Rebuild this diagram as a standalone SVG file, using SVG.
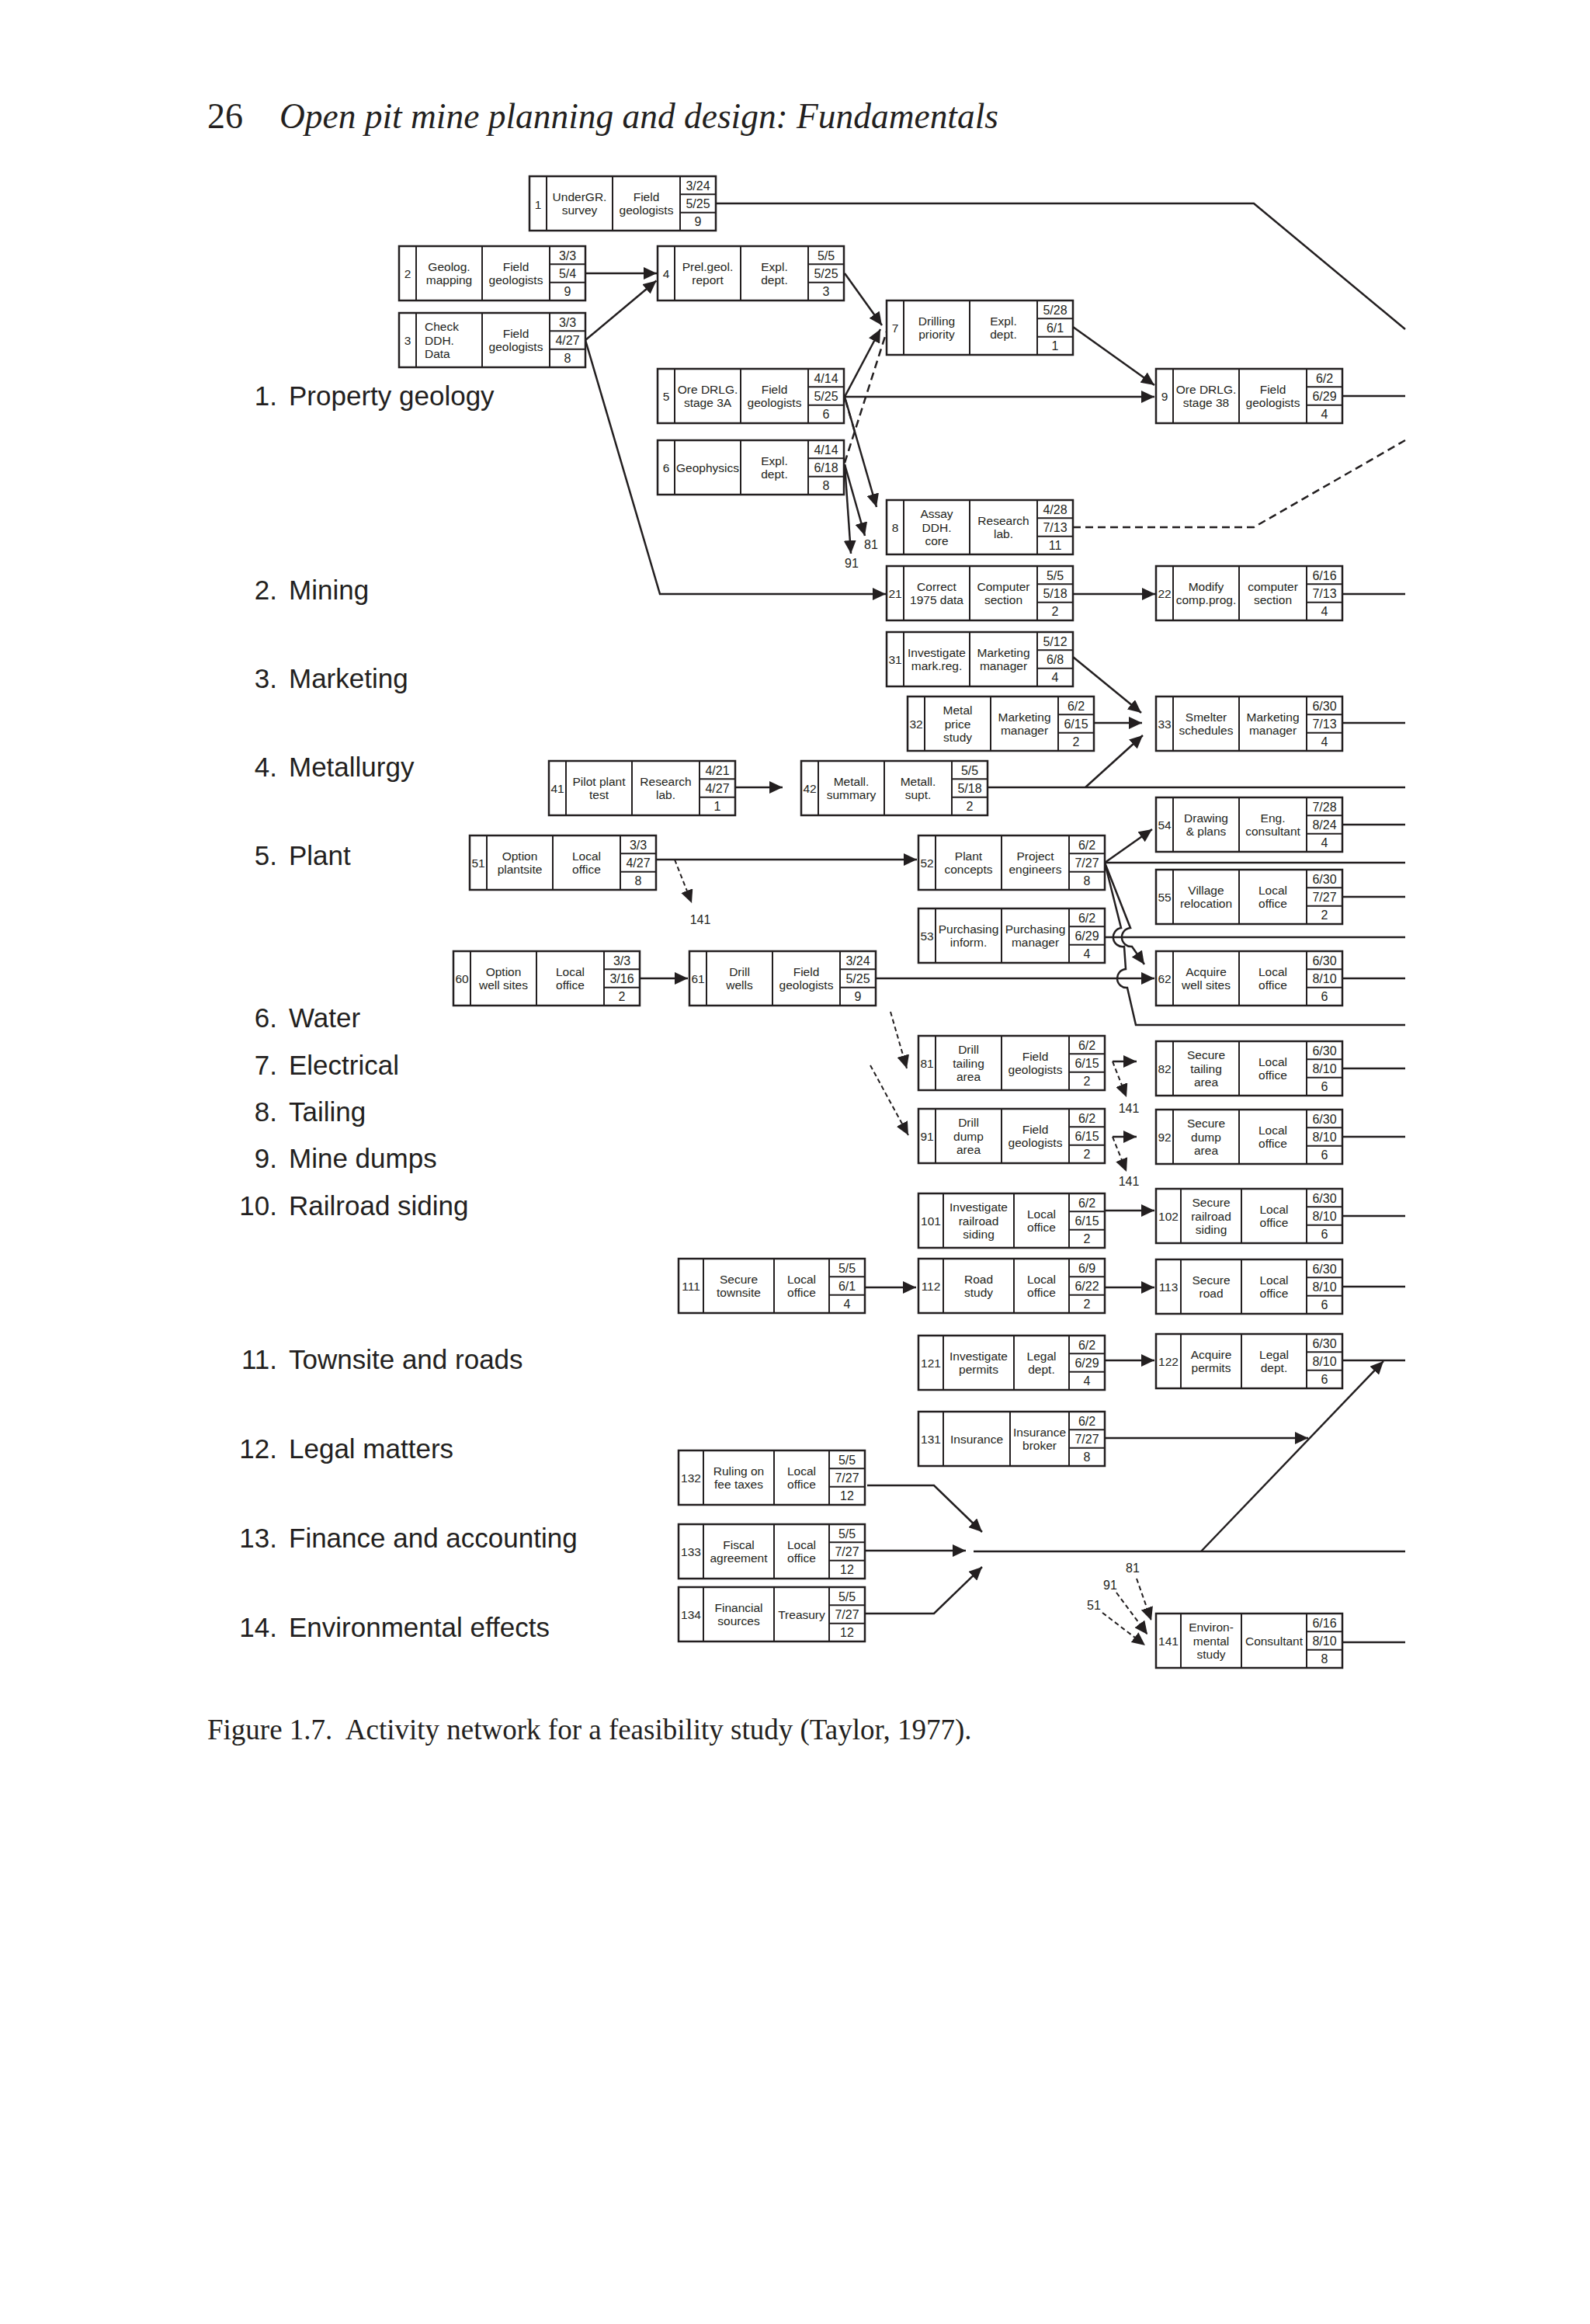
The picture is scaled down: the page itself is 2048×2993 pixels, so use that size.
<svg xmlns="http://www.w3.org/2000/svg" xmlns:xlink="http://www.w3.org/1999/xlink" width="2048" height="2993" viewBox="0 0 2048 2993">
<style>
.b{fill:#fff;stroke:#231f20;stroke-width:2.5}
.d{fill:none;stroke:#231f20;stroke-width:2}
.t{font-family:"Liberation Sans",Arial,sans-serif;font-size:15.5px;fill:#231f20;text-anchor:middle}
.l{font-family:"Liberation Sans",Arial,sans-serif;font-size:15.5px;fill:#231f20;text-anchor:start}
.s{font-family:"Liberation Sans",Arial,sans-serif;font-size:16px;fill:#231f20;text-anchor:middle}
.c{fill:none;stroke:#231f20;stroke-width:2.5}
.a{marker-end:url(#ah)}
.dl{stroke-dasharray:10 6}
.ds{stroke-dasharray:6 4;stroke-width:2}
.cat{font-family:"Liberation Sans",Arial,sans-serif;font-size:35px;fill:#231f20}
.num{text-anchor:end}
.ser{font-family:"Liberation Serif","Times New Roman",serif;fill:#231f20}
</style>
<defs>
<marker id="ah" viewBox="0 0 17 16" refX="17" refY="8" markerWidth="17" markerHeight="16" markerUnits="userSpaceOnUse" orient="auto"><path d="M0,0L17,8L0,16Z" fill="#231f20"/></marker>
<g id="fA"><rect class="b" width="240" height="70"/><path class="d" d="M22 0V70M107 0V70M194 0V70M194 23.3H240M194 46.7H240"/></g>
<g id="fB"><rect class="b" width="240" height="70"/><path class="d" d="M32 0V70M123 0V70M194 0V70M194 23.3H240M194 46.7H240"/></g>
<g id="fC"><rect class="b" width="240" height="70"/><path class="d" d="M32 0V70M110 0V70M194 0V70M194 23.3H240M194 46.7H240"/></g>
<g id="fD"><rect class="b" width="240" height="70"/><path class="d" d="M32 0V70M118 0V70M194 0V70M194 23.3H240M194 46.7H240"/></g>
</defs>
<rect width="2048" height="2993" fill="#fff"/>

<g id="header">
<text class="ser" x="267" y="165" font-size="46">26</text>
<text class="ser" x="360" y="165" font-size="46" font-style="italic" textLength="926" lengthAdjust="spacingAndGlyphs">Open pit mine planning and design: Fundamentals</text>
</g>

<g id="categories">
<text class="cat num" x="357" y="522">1.</text><text class="cat" x="372" y="522">Property geology</text>
<text class="cat num" x="357" y="772">2.</text><text class="cat" x="372" y="772">Mining</text>
<text class="cat num" x="357" y="886">3.</text><text class="cat" x="372" y="886">Marketing</text>
<text class="cat num" x="357" y="1000">4.</text><text class="cat" x="372" y="1000">Metallurgy</text>
<text class="cat num" x="357" y="1114">5.</text><text class="cat" x="372" y="1114">Plant</text>
<text class="cat num" x="357" y="1323">6.</text><text class="cat" x="372" y="1323">Water</text>
<text class="cat num" x="357" y="1384">7.</text><text class="cat" x="372" y="1384">Electrical</text>
<text class="cat num" x="357" y="1444">8.</text><text class="cat" x="372" y="1444">Tailing</text>
<text class="cat num" x="357" y="1504">9.</text><text class="cat" x="372" y="1504">Mine dumps</text>
<text class="cat num" x="357" y="1565">10.</text><text class="cat" x="372" y="1565">Railroad siding</text>
<text class="cat num" x="357" y="1763">11.</text><text class="cat" x="372" y="1763">Townsite and roads</text>
<text class="cat num" x="357" y="1878">12.</text><text class="cat" x="372" y="1878">Legal matters</text>
<text class="cat num" x="357" y="1993">13.</text><text class="cat" x="372" y="1993">Finance and accounting</text>
<text class="cat num" x="357" y="2108">14.</text><text class="cat" x="372" y="2108">Environmental effects</text>
</g>

<g id="connectors">
<path class="c" d="M922,262H1615L1810,424"/>
<path class="c a" d="M754,352H846"/>
<path class="c a" d="M754,438L845.5,361.5"/>
<path class="c a" d="M754,438L850,765H1141"/>
<path class="c a" d="M1088,352L1136,419"/>
<path class="c a" d="M1088,511L1134,424"/>
<path class="c dl" d="M1088,596L1142,427" stroke-width="2"/>
<path class="c dl" d="M1089,515L1102,560" stroke-width="2"/>
<path class="c a" d="M1088,511H1487"/>
<path class="c a" d="M1382,421L1487,496"/>
<path class="c a" d="M1088,511L1129,653"/>
<path class="c a" d="M1088,598L1114,690"/>
<path class="c a" d="M1088,598L1096,713"/>
<path class="c dl" d="M1382,679H1615L1810,567"/>
<path class="c" d="M1729,510H1810"/>
<path class="c a" d="M1382,765H1488"/>
<path class="c" d="M1729,765H1810"/>
<path class="c a" d="M1382,846L1470,918"/>
<path class="c a" d="M1409,931H1471"/>
<path class="c a" d="M1398,1014L1472,947"/>
<path class="c" d="M1272,1014H1810"/>
<path class="c" d="M1729,931H1810"/>
<path class="c a" d="M947,1014H1008"/>
<path class="c a" d="M845,1107H1181"/>
<path class="c ds a" d="M869,1107L891,1163"/>
<path class="c a" d="M1423,1111L1484,1068"/>
<path class="c" d="M1423,1111H1810"/>
<path class="c" d="M1729,1062H1810"/>
<path class="c" d="M1729,1155H1810"/>
<path class="c" d="M1423,1207H1810"/>
<path class="c a" d="M1423,1111L1456,1195A11,11 0 0 0 1458,1219L1474,1242"/>
<path class="c" d="M1423,1111L1444,1195A11,11 0 0 0 1448,1219L1450,1248A11,11 0 0 0 1452,1272L1463,1320H1810"/>
<path class="c a" d="M824,1260H886"/>
<path class="c a" d="M1128,1260H1487"/>
<path class="c" d="M1729,1260H1810"/>
<path class="c ds a" d="M1147,1303L1168,1376"/>
<path class="c ds a" d="M1121,1372L1170,1462"/>
<path class="c a" d="M1433,1367H1464"/>
<path class="c ds a" d="M1433,1367L1451,1413"/>
<path class="c" d="M1729,1376H1810"/>
<path class="c a" d="M1433,1464H1464"/>
<path class="c ds a" d="M1433,1464L1451,1509"/>
<path class="c" d="M1729,1464H1810"/>
<path class="c a" d="M1423,1559H1487"/>
<path class="c" d="M1729,1566H1810"/>
<path class="c a" d="M1115,1658H1180"/>
<path class="c a" d="M1423,1658H1487"/>
<path class="c" d="M1729,1657H1810"/>
<path class="c a" d="M1423,1752H1487"/>
<path class="c" d="M1729,1752H1810"/>
<path class="c a" d="M1423,1852H1685"/>
<path class="c a" d="M1117,1913H1203L1265,1973"/>
<path class="c a" d="M1115,1997H1244"/>
<path class="c a" d="M1115,2078H1203L1265,2018"/>
<path class="c" d="M1254,1998H1810"/>
<path class="c a" d="M1547,1998L1782,1753"/>
<path class="c ds a" d="M1464,2033L1483,2087"/>
<path class="c ds a" d="M1438,2051L1478,2105"/>
<path class="c ds a" d="M1420,2077L1475,2119"/>
<path class="c" d="M1729,2115H1810"/>
<text class="s" x="1122" y="707">81</text>
<text class="s" x="1097" y="731">91</text>
<text class="s" x="902" y="1190">141</text>
<text class="s" x="1454" y="1433">141</text>
<text class="s" x="1454" y="1527">141</text>
<text class="s" x="1459" y="2025">81</text>
<text class="s" x="1430" y="2047">91</text>
<text class="s" x="1409" y="2073">51</text>
</g>

<g id="n1" transform="translate(682,227)"><use href="#fA"/><text class="t" x="11" y="41.5" font-size="18">1</text><text class="t" x="64.5" y="31.5">UnderGR.<tspan x="64.5" y="49">survey</tspan></text><text class="t" x="150.5" y="31.5">Field<tspan x="150.5" y="49">geologists</tspan></text><text class="s" x="217" y="17.5">3/24<tspan x="217" y="40.8">5/25</tspan><tspan x="217" y="64.1">9</tspan></text></g>
<g id="n2" transform="translate(514,317)"><use href="#fA"/><text class="t" x="11" y="40.5">2</text><text class="t" x="64.5" y="31.5">Geolog.<tspan x="64.5" y="49">mapping</tspan></text><text class="t" x="150.5" y="31.5">Field<tspan x="150.5" y="49">geologists</tspan></text><text class="s" x="217" y="17.5">3/3<tspan x="217" y="40.8">5/4</tspan><tspan x="217" y="64.1">9</tspan></text></g>
<g id="n3" transform="translate(514,403)"><use href="#fA"/><text class="t" x="11" y="40.5">3</text><text class="l" x="33" y="22.8">Check<tspan x="33" y="40.5">DDH.</tspan><tspan x="33" y="58.2">Data</tspan></text><text class="t" x="150.5" y="31.5">Field<tspan x="150.5" y="49">geologists</tspan></text><text class="s" x="217" y="17.5">3/3<tspan x="217" y="40.8">4/27</tspan><tspan x="217" y="64.1">8</tspan></text></g>
<g id="n4" transform="translate(847,317)"><use href="#fA"/><text class="t" x="11" y="40.5">4</text><text class="t" x="64.5" y="31.5">Prel.geol.<tspan x="64.5" y="49">report</tspan></text><text class="t" x="150.5" y="31.5">Expl.<tspan x="150.5" y="49">dept.</tspan></text><text class="s" x="217" y="17.5">5/5<tspan x="217" y="40.8">5/25</tspan><tspan x="217" y="64.1">3</tspan></text></g>
<g id="n5" transform="translate(847,475)"><use href="#fA"/><text class="t" x="11" y="40.5">5</text><text class="t" x="64.5" y="31.5">Ore DRLG.<tspan x="64.5" y="49">stage 3A</tspan></text><text class="t" x="150.5" y="31.5">Field<tspan x="150.5" y="49">geologists</tspan></text><text class="s" x="217" y="17.5">4/14<tspan x="217" y="40.8">5/25</tspan><tspan x="217" y="64.1">6</tspan></text></g>
<g id="n6" transform="translate(847,567)"><use href="#fA"/><text class="t" x="11" y="40.5">6</text><text class="t" x="64.5" y="40.5">Geophysics</text><text class="t" x="150.5" y="31.5">Expl.<tspan x="150.5" y="49">dept.</tspan></text><text class="s" x="217" y="17.5">4/14<tspan x="217" y="40.8">6/18</tspan><tspan x="217" y="64.1">8</tspan></text></g>
<g id="n7" transform="translate(1142,387)"><use href="#fA"/><text class="t" x="11" y="40.5">7</text><text class="t" x="64.5" y="31.5">Drilling<tspan x="64.5" y="49">priority</tspan></text><text class="t" x="150.5" y="31.5">Expl.<tspan x="150.5" y="49">dept.</tspan></text><text class="s" x="217" y="17.5">5/28<tspan x="217" y="40.8">6/1</tspan><tspan x="217" y="64.1">1</tspan></text></g>
<g id="n8" transform="translate(1142,644)"><use href="#fA"/><text class="t" x="11" y="40.5">8</text><text class="t" x="64.5" y="22.8">Assay<tspan x="64.5" y="40.5">DDH.</tspan><tspan x="64.5" y="58.2">core</tspan></text><text class="t" x="150.5" y="31.5">Research<tspan x="150.5" y="49">lab.</tspan></text><text class="s" x="217" y="17.5">4/28<tspan x="217" y="40.8">7/13</tspan><tspan x="217" y="64.1">11</tspan></text></g>
<g id="n9" transform="translate(1489,475)"><use href="#fA"/><text class="t" x="11" y="40.5">9</text><text class="t" x="64.5" y="31.5">Ore DRLG.<tspan x="64.5" y="49">stage 38</tspan></text><text class="t" x="150.5" y="31.5">Field<tspan x="150.5" y="49">geologists</tspan></text><text class="s" x="217" y="17.5">6/2<tspan x="217" y="40.8">6/29</tspan><tspan x="217" y="64.1">4</tspan></text></g>
<g id="n21" transform="translate(1142,729)"><use href="#fA"/><text class="t" x="11" y="40.5">21</text><text class="t" x="64.5" y="31.5">Correct<tspan x="64.5" y="49">1975 data</tspan></text><text class="t" x="150.5" y="31.5">Computer<tspan x="150.5" y="49">section</tspan></text><text class="s" x="217" y="17.5">5/5<tspan x="217" y="40.8">5/18</tspan><tspan x="217" y="64.1">2</tspan></text></g>
<g id="n22" transform="translate(1489,729)"><use href="#fA"/><text class="t" x="11" y="40.5">22</text><text class="t" x="64.5" y="31.5">Modify<tspan x="64.5" y="49">comp.prog.</tspan></text><text class="t" x="150.5" y="31.5">computer<tspan x="150.5" y="49">section</tspan></text><text class="s" x="217" y="17.5">6/16<tspan x="217" y="40.8">7/13</tspan><tspan x="217" y="64.1">4</tspan></text></g>
<g id="n31" transform="translate(1142,814)"><use href="#fA"/><text class="t" x="11" y="40.5">31</text><text class="t" x="64.5" y="31.5">Investigate<tspan x="64.5" y="49">mark.reg.</tspan></text><text class="t" x="150.5" y="31.5">Marketing<tspan x="150.5" y="49">manager</tspan></text><text class="s" x="217" y="17.5">5/12<tspan x="217" y="40.8">6/8</tspan><tspan x="217" y="64.1">4</tspan></text></g>
<g id="n32" transform="translate(1169,897)"><use href="#fA"/><text class="t" x="11" y="40.5">32</text><text class="t" x="64.5" y="22.8">Metal<tspan x="64.5" y="40.5">price</tspan><tspan x="64.5" y="58.2">study</tspan></text><text class="t" x="150.5" y="31.5">Marketing<tspan x="150.5" y="49">manager</tspan></text><text class="s" x="217" y="17.5">6/2<tspan x="217" y="40.8">6/15</tspan><tspan x="217" y="64.1">2</tspan></text></g>
<g id="n33" transform="translate(1489,897)"><use href="#fA"/><text class="t" x="11" y="40.5">33</text><text class="t" x="64.5" y="31.5">Smelter<tspan x="64.5" y="49">schedules</tspan></text><text class="t" x="150.5" y="31.5">Marketing<tspan x="150.5" y="49">manager</tspan></text><text class="s" x="217" y="17.5">6/30<tspan x="217" y="40.8">7/13</tspan><tspan x="217" y="64.1">4</tspan></text></g>
<g id="n41" transform="translate(707,980)"><use href="#fA"/><text class="t" x="11" y="40.5">41</text><text class="t" x="64.5" y="31.5">Pilot plant<tspan x="64.5" y="49">test</tspan></text><text class="t" x="150.5" y="31.5">Research<tspan x="150.5" y="49">lab.</tspan></text><text class="s" x="217" y="17.5">4/21<tspan x="217" y="40.8">4/27</tspan><tspan x="217" y="64.1">1</tspan></text></g>
<g id="n42" transform="translate(1032,980)"><use href="#fA"/><text class="t" x="11" y="40.5">42</text><text class="t" x="64.5" y="31.5">Metall.<tspan x="64.5" y="49">summary</tspan></text><text class="t" x="150.5" y="31.5">Metall.<tspan x="150.5" y="49">supt.</tspan></text><text class="s" x="217" y="17.5">5/5<tspan x="217" y="40.8">5/18</tspan><tspan x="217" y="64.1">2</tspan></text></g>
<g id="n51" transform="translate(605,1076)"><use href="#fA"/><text class="t" x="11" y="40.5">51</text><text class="t" x="64.5" y="31.5">Option<tspan x="64.5" y="49">plantsite</tspan></text><text class="t" x="150.5" y="31.5">Local<tspan x="150.5" y="49">office</tspan></text><text class="s" x="217" y="17.5">3/3<tspan x="217" y="40.8">4/27</tspan><tspan x="217" y="64.1">8</tspan></text></g>
<g id="n52" transform="translate(1183,1076)"><use href="#fA"/><text class="t" x="11" y="40.5">52</text><text class="t" x="64.5" y="31.5">Plant<tspan x="64.5" y="49">concepts</tspan></text><text class="t" x="150.5" y="31.5">Project<tspan x="150.5" y="49">engineers</tspan></text><text class="s" x="217" y="17.5">6/2<tspan x="217" y="40.8">7/27</tspan><tspan x="217" y="64.1">8</tspan></text></g>
<g id="n53" transform="translate(1183,1170)"><use href="#fA"/><text class="t" x="11" y="40.5">53</text><text class="t" x="64.5" y="31.5">Purchasing<tspan x="64.5" y="49">inform.</tspan></text><text class="t" x="150.5" y="31.5">Purchasing<tspan x="150.5" y="49">manager</tspan></text><text class="s" x="217" y="17.5">6/2<tspan x="217" y="40.8">6/29</tspan><tspan x="217" y="64.1">4</tspan></text></g>
<g id="n54" transform="translate(1489,1027)"><use href="#fA"/><text class="t" x="11" y="40.5">54</text><text class="t" x="64.5" y="31.5">Drawing<tspan x="64.5" y="49">&amp; plans</tspan></text><text class="t" x="150.5" y="31.5">Eng.<tspan x="150.5" y="49">consultant</tspan></text><text class="s" x="217" y="17.5">7/28<tspan x="217" y="40.8">8/24</tspan><tspan x="217" y="64.1">4</tspan></text></g>
<g id="n55" transform="translate(1489,1120)"><use href="#fA"/><text class="t" x="11" y="40.5">55</text><text class="t" x="64.5" y="31.5">Village<tspan x="64.5" y="49">relocation</tspan></text><text class="t" x="150.5" y="31.5">Local<tspan x="150.5" y="49">office</tspan></text><text class="s" x="217" y="17.5">6/30<tspan x="217" y="40.8">7/27</tspan><tspan x="217" y="64.1">2</tspan></text></g>
<g id="n60" transform="translate(584,1225)"><use href="#fA"/><text class="t" x="11" y="40.5">60</text><text class="t" x="64.5" y="31.5">Option<tspan x="64.5" y="49">well sites</tspan></text><text class="t" x="150.5" y="31.5">Local<tspan x="150.5" y="49">office</tspan></text><text class="s" x="217" y="17.5">3/3<tspan x="217" y="40.8">3/16</tspan><tspan x="217" y="64.1">2</tspan></text></g>
<g id="n61" transform="translate(888,1225)"><use href="#fA"/><text class="t" x="11" y="40.5">61</text><text class="t" x="64.5" y="31.5">Drill<tspan x="64.5" y="49">wells</tspan></text><text class="t" x="150.5" y="31.5">Field<tspan x="150.5" y="49">geologists</tspan></text><text class="s" x="217" y="17.5">3/24<tspan x="217" y="40.8">5/25</tspan><tspan x="217" y="64.1">9</tspan></text></g>
<g id="n62" transform="translate(1489,1225)"><use href="#fA"/><text class="t" x="11" y="40.5">62</text><text class="t" x="64.5" y="31.5">Acquire<tspan x="64.5" y="49">well sites</tspan></text><text class="t" x="150.5" y="31.5">Local<tspan x="150.5" y="49">office</tspan></text><text class="s" x="217" y="17.5">6/30<tspan x="217" y="40.8">8/10</tspan><tspan x="217" y="64.1">6</tspan></text></g>
<g id="n81" transform="translate(1183,1334)"><use href="#fA"/><text class="t" x="11" y="40.5">81</text><text class="t" x="64.5" y="22.8">Drill<tspan x="64.5" y="40.5">tailing</tspan><tspan x="64.5" y="58.2">area</tspan></text><text class="t" x="150.5" y="31.5">Field<tspan x="150.5" y="49">geologists</tspan></text><text class="s" x="217" y="17.5">6/2<tspan x="217" y="40.8">6/15</tspan><tspan x="217" y="64.1">2</tspan></text></g>
<g id="n82" transform="translate(1489,1341)"><use href="#fA"/><text class="t" x="11" y="40.5">82</text><text class="t" x="64.5" y="22.8">Secure<tspan x="64.5" y="40.5">tailing</tspan><tspan x="64.5" y="58.2">area</tspan></text><text class="t" x="150.5" y="31.5">Local<tspan x="150.5" y="49">office</tspan></text><text class="s" x="217" y="17.5">6/30<tspan x="217" y="40.8">8/10</tspan><tspan x="217" y="64.1">6</tspan></text></g>
<g id="n91" transform="translate(1183,1428)"><use href="#fA"/><text class="t" x="11" y="40.5">91</text><text class="t" x="64.5" y="22.8">Drill<tspan x="64.5" y="40.5">dump</tspan><tspan x="64.5" y="58.2">area</tspan></text><text class="t" x="150.5" y="31.5">Field<tspan x="150.5" y="49">geologists</tspan></text><text class="s" x="217" y="17.5">6/2<tspan x="217" y="40.8">6/15</tspan><tspan x="217" y="64.1">2</tspan></text></g>
<g id="n92" transform="translate(1489,1429)"><use href="#fA"/><text class="t" x="11" y="40.5">92</text><text class="t" x="64.5" y="22.8">Secure<tspan x="64.5" y="40.5">dump</tspan><tspan x="64.5" y="58.2">area</tspan></text><text class="t" x="150.5" y="31.5">Local<tspan x="150.5" y="49">office</tspan></text><text class="s" x="217" y="17.5">6/30<tspan x="217" y="40.8">8/10</tspan><tspan x="217" y="64.1">6</tspan></text></g>
<g id="n101" transform="translate(1183,1537)"><use href="#fB"/><text class="t" x="16" y="40.5">101</text><text class="t" x="77.5" y="22.8">Investigate<tspan x="77.5" y="40.5">railroad</tspan><tspan x="77.5" y="58.2">siding</tspan></text><text class="t" x="158.5" y="31.5">Local<tspan x="158.5" y="49">office</tspan></text><text class="s" x="217" y="17.5">6/2<tspan x="217" y="40.8">6/15</tspan><tspan x="217" y="64.1">2</tspan></text></g>
<g id="n102" transform="translate(1489,1531)"><use href="#fC"/><text class="t" x="16" y="40.5">102</text><text class="t" x="71" y="22.8">Secure<tspan x="71" y="40.5">railroad</tspan><tspan x="71" y="58.2">siding</tspan></text><text class="t" x="152" y="31.5">Local<tspan x="152" y="49">office</tspan></text><text class="s" x="217" y="17.5">6/30<tspan x="217" y="40.8">8/10</tspan><tspan x="217" y="64.1">6</tspan></text></g>
<g id="n111" transform="translate(874,1621)"><use href="#fB"/><text class="t" x="16" y="40.5">111</text><text class="t" x="77.5" y="31.5">Secure<tspan x="77.5" y="49">townsite</tspan></text><text class="t" x="158.5" y="31.5">Local<tspan x="158.5" y="49">office</tspan></text><text class="s" x="217" y="17.5">5/5<tspan x="217" y="40.8">6/1</tspan><tspan x="217" y="64.1">4</tspan></text></g>
<g id="n112" transform="translate(1183,1621)"><use href="#fB"/><text class="t" x="16" y="40.5">112</text><text class="t" x="77.5" y="31.5">Road<tspan x="77.5" y="49">study</tspan></text><text class="t" x="158.5" y="31.5">Local<tspan x="158.5" y="49">office</tspan></text><text class="s" x="217" y="17.5">6/9<tspan x="217" y="40.8">6/22</tspan><tspan x="217" y="64.1">2</tspan></text></g>
<g id="n113" transform="translate(1489,1622)"><use href="#fC"/><text class="t" x="16" y="40.5">113</text><text class="t" x="71" y="31.5">Secure<tspan x="71" y="49">road</tspan></text><text class="t" x="152" y="31.5">Local<tspan x="152" y="49">office</tspan></text><text class="s" x="217" y="17.5">6/30<tspan x="217" y="40.8">8/10</tspan><tspan x="217" y="64.1">6</tspan></text></g>
<g id="n121" transform="translate(1183,1720)"><use href="#fB"/><text class="t" x="16" y="40.5">121</text><text class="t" x="77.5" y="31.5">Investigate<tspan x="77.5" y="49">permits</tspan></text><text class="t" x="158.5" y="31.5">Legal<tspan x="158.5" y="49">dept.</tspan></text><text class="s" x="217" y="17.5">6/2<tspan x="217" y="40.8">6/29</tspan><tspan x="217" y="64.1">4</tspan></text></g>
<g id="n122" transform="translate(1489,1718)"><use href="#fC"/><text class="t" x="16" y="40.5">122</text><text class="t" x="71" y="31.5">Acquire<tspan x="71" y="49">permits</tspan></text><text class="t" x="152" y="31.5">Legal<tspan x="152" y="49">dept.</tspan></text><text class="s" x="217" y="17.5">6/30<tspan x="217" y="40.8">8/10</tspan><tspan x="217" y="64.1">6</tspan></text></g>
<g id="n131" transform="translate(1183,1818)"><use href="#fD"/><text class="t" x="16" y="40.5">131</text><text class="t" x="75" y="40.5">Insurance</text><text class="t" x="156" y="31.5">Insurance<tspan x="156" y="49">broker</tspan></text><text class="s" x="217" y="17.5">6/2<tspan x="217" y="40.8">7/27</tspan><tspan x="217" y="64.1">8</tspan></text></g>
<g id="n132" transform="translate(874,1868)"><use href="#fB"/><text class="t" x="16" y="40.5">132</text><text class="t" x="77.5" y="31.5">Ruling on<tspan x="77.5" y="49">fee taxes</tspan></text><text class="t" x="158.5" y="31.5">Local<tspan x="158.5" y="49">office</tspan></text><text class="s" x="217" y="17.5">5/5<tspan x="217" y="40.8">7/27</tspan><tspan x="217" y="64.1">12</tspan></text></g>
<g id="n133" transform="translate(874,1963)"><use href="#fB"/><text class="t" x="16" y="40.5">133</text><text class="t" x="77.5" y="31.5">Fiscal<tspan x="77.5" y="49">agreement</tspan></text><text class="t" x="158.5" y="31.5">Local<tspan x="158.5" y="49">office</tspan></text><text class="s" x="217" y="17.5">5/5<tspan x="217" y="40.8">7/27</tspan><tspan x="217" y="64.1">12</tspan></text></g>
<g id="n134" transform="translate(874,2044)"><use href="#fB"/><text class="t" x="16" y="40.5">134</text><text class="t" x="77.5" y="31.5">Financial<tspan x="77.5" y="49">sources</tspan></text><text class="t" x="158.5" y="40.5">Treasury</text><text class="s" x="217" y="17.5">5/5<tspan x="217" y="40.8">7/27</tspan><tspan x="217" y="64.1">12</tspan></text></g>
<g id="n141" transform="translate(1489,2078)"><use href="#fC"/><text class="t" x="16" y="40.5">141</text><text class="t" x="71" y="22.8">Environ-<tspan x="71" y="40.5">mental</tspan><tspan x="71" y="58.2">study</tspan></text><text class="t" x="152" y="40.5">Consultant</text><text class="s" x="217" y="17.5">6/16<tspan x="217" y="40.8">8/10</tspan><tspan x="217" y="64.1">8</tspan></text></g>

<g id="caption">
<text class="ser" x="267" y="2240" font-size="37" xml:space="preserve">Figure 1.7.  Activity network for a feasibility study (Taylor, 1977).</text>
</g>
</svg>
